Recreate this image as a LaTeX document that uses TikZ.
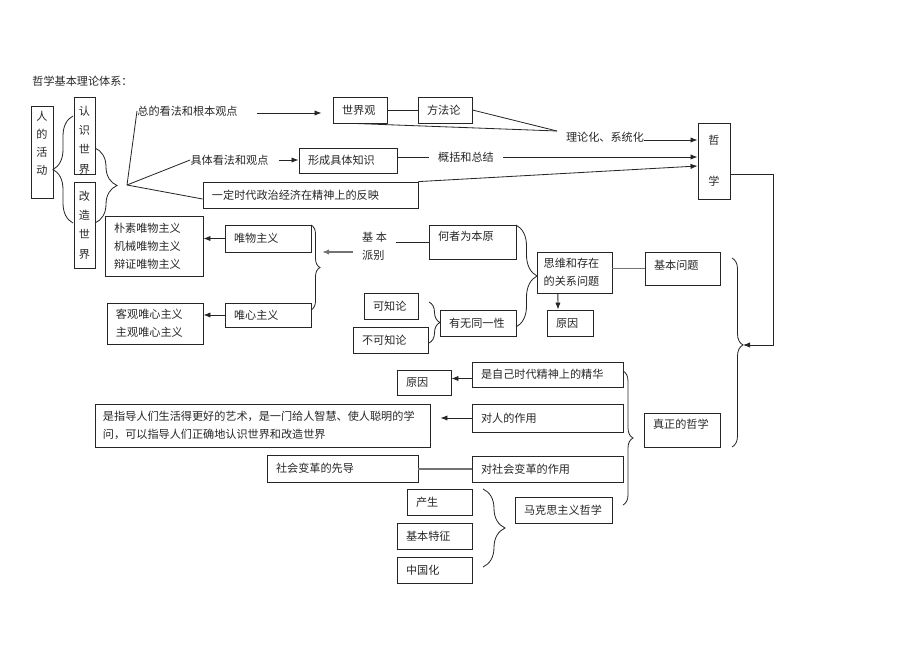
\documentclass[tikz,border=0pt]{standalone}
\usepackage{fontspec}
\setmainfont{Noto Sans CJK SC}
\usetikzlibrary{arrows.meta,decorations.pathreplacing}

\tikzset{
	box/.style={draw, inner xsep=0.27cm, inner ysep=0pt, align=left},
	vbox/.style={draw, inner sep=0pt, align=center, font=\fontsize{9.5}{16.4}\selectfont},
	txt/.style={inner sep=0pt, align=left},
	arr/.style={-{Latex[length=6pt,width=4.5pt]}},
	brc/.style={decorate, decoration={brace, amplitude=#1}},
}

\begin{document}
\begin{tikzpicture}[x=0.03cm,y=-0.03cm,font=\fontsize{9.5}{15.5}\selectfont,line width=0.7pt,black!85]
				\useasboundingbox (0,0) rectangle (920,651);
				\node[txt, anchor=west] at (32,81)(title){哲学基本理论体系：};
				\node[vbox, minimum width=0.66cm, minimum height=2.76cm, font=\fontsize{9.5}{15.3}\selectfont] at (42,152)(rhd){人\\的\\活\\动\\\mbox{}};
				\node[vbox, minimum width=0.63cm, minimum height=2.31cm] at (84.5,135.5)(rssj){\rule{0pt}{15.8pt}认\\识\\世\\界};
				\node[vbox, minimum width=0.63cm, minimum height=2.58cm] at (84.5,225)(gzsj){改\\造\\世\\界};
				\node[txt] at (187.5,111)(zkf){总的看法和根本观点};
				\node[txt] at (229.5,160)(jtkf){具体看法和观点};
				\node[box, text width=1.08cm, minimum height=0.78cm] at (360,110)(sjg){世界观};
				\node[box, text width=1.08cm, minimum height=0.78cm] at (445,110)(ffl){方法论};
				\node[txt] at (605,137)(llh){理论化、系统化};
				\node[vbox, minimum width=0.96cm, minimum height=2.28cm] at (714,161)(zx){哲\\[18.5pt]学};
				\node[box, text width=2.4cm, minimum height=0.75cm] at (348,160.5)(xcjt){形成具体知识};
				\node[txt, inner xsep=0.27cm] at (466,157)(gkzj){概括和总结};
				\node[box, text width=5.91cm, minimum height=0.78cm] at (310.5,195)(ydsd){一定时代政治经济在精神上的反映};
				\node[box, text width=2.4cm, minimum height=1.8cm] at (154,246)(pswz){朴素唯物主义\\机械唯物主义\\辩证唯物主义};
				\node[box, text width=2.04cm, minimum height=0.81cm] at (268,238.5)(wwzy){唯物主义};
				\node[box, text width=2.04cm, minimum height=0.72cm] at (268,315)(wxzy){唯心主义};
				\node[box, text width=2.34cm, minimum height=1.23cm] at (155,323.5)(kgwx){客观唯心主义\\主观唯心主义};
				\node[txt, inner xsep=0.27cm] at (374.5,246)(jbpb){基 本\\派别};
				\node[box, text width=2.07cm, minimum height=1.02cm] at (472.5,242)(hzwby){何者为本原\rule[-10pt]{0pt}{0pt}};
				\node[box, text width=1.85cm, minimum height=1.23cm, inner xsep=0.2cm] at (574.5,272.5)(swcz){思维和存在\\的关系问题};
				\node[box, text width=1.71cm, minimum height=0.99cm] at (682.5,268.5)(jbwt){基本问题\rule[-7pt]{0pt}{0pt}};
				\node[box, text width=0.84cm, minimum height=0.78cm] at (570,323)(yy1){原因};
				\node[box, text width=1.08cm, minimum height=0.78cm] at (391,306)(kzl){可知论};
				\node[box, text width=1.71cm, minimum height=0.78cm] at (390.5,340)(bkzl){不可知论};
				\node[box, text width=1.74cm, minimum height=0.78cm] at (478,323)(ywty){有无同一性};
				\node[box, text width=1.74cm, minimum height=1.02cm] at (682,430)(zzdz){真正的哲学\rule[-10pt]{0pt}{0pt}};
				\node[box, text width=3.99cm, minimum height=0.75cm] at (547.5,374.5)(sjd){是自己时代精神上的精华};
				\node[box, text width=1.08cm, minimum height=0.75cm] at (424,382.5)(yy2){原因};
				\node[box, text width=3.99cm, minimum height=0.84cm] at (547.5,418)(drz){对人的作用};
				\node[box, text width=9.57cm, minimum height=1.29cm, inner xsep=0.24cm] at (262.5,425.5)(zdyz){是指导人们生活得更好的艺术，是一门给人智慧、使人聪明的学\\问，可以指导人们正确地认识世界和改造世界};
				\node[box, text width=3.99cm, minimum height=0.78cm] at (547.5,469)(dshz){对社会变革的作用};
				\node[box, text width=3.99cm, minimum height=0.81cm] at (342.5,468.5)(shxd){社会变革的先导};
				\node[box, text width=1.41cm, minimum height=0.78cm] at (439.5,502)(cs){产生};
				\node[box, text width=1.71cm, minimum height=0.78cm] at (434.5,536)(jbtz){基本特征};
				\node[box, text width=1.71cm, minimum height=0.78cm] at (434.5,570)(zgh){中国化};
				\node[box, text width=2.37cm, minimum height=0.78cm] at (563.5,510)(mks){马克思主义哲学};
				\coordinate (fan) at (127,185);
				\coordinate (llhin) at (557,131);
				\coordinate (zxdown) at (773,345);
				\coordinate (jbtip) at (743,345);
				\coordinate (pbtip) at (322,252);
				\draw (fan)--(zkf.west);
				\draw (fan)--(jtkf.west);
				\draw (fan)--([yshift=-0.12cm]ydsd.west);
				\draw[arr] ([xshift=0.57cm,yshift=-0.09cm]zkf.east |- sjg.west)--([xshift=-0.33cm,yshift=-0.09cm]sjg.west);
				\draw (sjg)--(ffl);
				\draw ([xshift=-0.21cm]sjg.south)--(llhin);
				\draw (ffl.east)--(llhin);
				\draw[arr] ([yshift=-0.09cm]llh.east)--([yshift=-0.09cm]llh.east -| zx.west);
				\draw[arr] ([xshift=0.3cm]jtkf.east)--(xcjt.west |- jtkf.east);
				\draw (xcjt.east |- gkzj)--(gkzj.west);
				\draw[arr] (gkzj.east)--(gkzj.east -| zx.west);
				\draw[arr] (ydsd.north east)--([yshift=-0.15cm]zx.west);
				\draw[arr] ([yshift=-0.39cm]zx.east)-|(zxdown)--(jbtip);
				\draw[arr] (wwzy.west)--(pswz.east |- wwzy.west);
				\draw[arr] (wxzy.west)--(kgwx.east |- wxzy.west);
				\draw[arr, black!55, line width=1pt] ([yshift=-0.18cm]jbpb.west)--(pbtip);
				\draw (jbpb.east |- hzwby.west)--(hzwby.west);
				\draw[black!55, line width=1pt] (jbwt.west -| swcz.east)--(jbwt.west);
				\draw[arr] ([xshift=-0.5cm]swcz.south)--([xshift=-0.36cm]yy1.north);
				\draw[arr] ([yshift=-0.12cm]sjd.west)--([yshift=-0.12cm]yy2.east |- sjd.west);
				\draw[arr] (drz.west)--([xshift=0.3cm]zdyz.east |- drz.west);
				\draw[black!55, line width=1pt] (dshz.west)--(shxd.east |- dshz.west);
				\draw[brc=0.6cm] (73,223)--(73,116);
				\draw[brc=0.66cm] (95,148)--(95,223);
				\draw[brc=0.27cm] (311,225)--(311,310);
				\draw[brc=0.63cm] (516,225)--(516,327);
				\draw[brc=0.33cm] (429,302)--(429,343);
				\draw[brc=0.33cm, decoration={aspect=0.46}] (732,258)--(732,447);
				\draw[brc=0.3cm] (623,371)--(623,505);
				\draw[brc=0.66cm] (483,489)--(483,567);
			\end{tikzpicture}
\end{document}
